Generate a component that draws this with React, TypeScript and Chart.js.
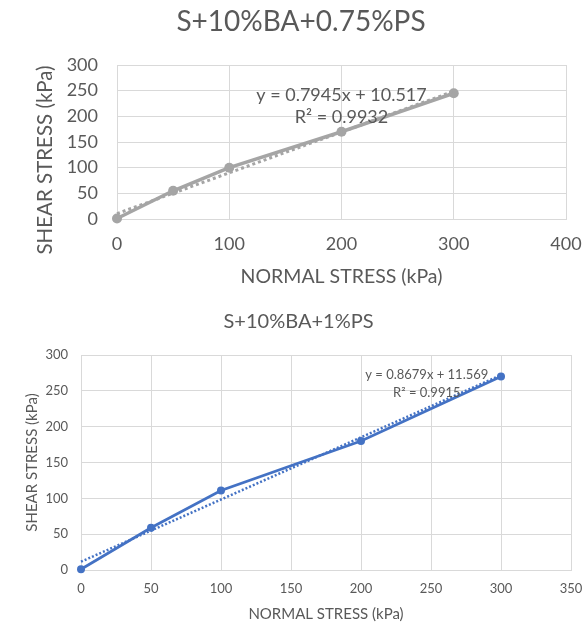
import React, { useEffect, useRef } from "react";
import { Chart, registerables } from "chart.js";

Chart.register(...registerables);

const FONT = "Lato, 'Open Sans', sans-serif";
const TEXT = "#595959";
const GRID = "#D9D9D9";

// ---- data ----
const normalStress = [0, 50, 100, 200, 300];
const shearTop = [1, 55, 100, 170, 245];
const shearBottom = [1, 59, 111, 180, 270];

const topTitle = "S+10%BA+0.75%PS";
const bottomTitle = "S+10%BA+1%PS";
const xTitle = "NORMAL STRESS (kPa)";
const yTitle = "SHEAR STRESS (kPa)";

const topSlope = 0.7945;
const topIntercept = 10.517;
const topLabels = ["y = 0.7945x + 10.517", "R\u00B2 = 0.9932"];
const bottomSlope = 0.8679;
const bottomIntercept = 11.569;
const bottomLabels = ["y = 0.8679x + 11.569", "R\u00B2 = 0.9915"];

const topXMax = 400;
const topXStep = 100;
const bottomXMax = 350;
const bottomXStep = 50;
const yMax = 300;
const yStep = 50;

const trendLabelPlugin = {
  id: "trendLabel",
  afterDatasetsDraw(chart: any, _args: any, opts: any) {
    if (!opts || !opts.lines) return;
    const { ctx, scales } = chart;
    const x = scales.x.getPixelForValue(opts.x);
    const y = scales.y.getPixelForValue(opts.y);
    ctx.save();
    ctx.font = `${opts.size}px ${FONT}`;
    ctx.fillStyle = TEXT;
    ctx.textAlign = "center";
    ctx.textBaseline = "middle";
    opts.lines.forEach((t: string, i: number) => {
      ctx.fillText(t, x, y + i * opts.gap);
    });
    ctx.restore();
  },
};

// vertical axis title, drawn beside the y scale
const yTitlePlugin = {
  id: "yTitleText",
  afterDraw(chart: any, _args: any, opts: any) {
    if (!opts || !opts.text) return;
    const { ctx, chartArea } = chart;
    const cy = (chartArea.top + chartArea.bottom) / 2 + (opts.dy || 0);
    ctx.save();
    ctx.translate(opts.x, cy);
    ctx.rotate(-Math.PI / 2);
    ctx.font = `${opts.size}px ${FONT}`;
    ctx.fillStyle = TEXT;
    ctx.textAlign = "center";
    ctx.textBaseline = "middle";
    ctx.fillText(opts.text, 0, 0);
    ctx.restore();
  },
};

type Cfg = {
  width: number;
  height: number;
  title: string;
  values: number[];
  slope: number;
  intercept: number;
  labels: string[];
  labelX: number;
  labelY: number;
  labelSize: number;
  labelGap: number;
  color: string;
  lineWidth: number;
  pointRadius: number;
  trendWidth: number;
  trendDash: number[];
  xMax: number;
  xStep: number;
  titleSize: number;
  titlePad: { top: number; bottom: number };
  tickSize: number;
  axisTitleSize: number;
  yTitleSize: number;
  yTitleX: number;
  yTitleDy: number;
  yAxisWidth: number;
  xAxisHeight: number;
  yTickPad: number;
  xTickPad: number;
  xTitlePad: number;
  padLeft: number;
  padRight: number;
};

function ScatterChart({ cfg, top }: { cfg: Cfg; top: number }) {
  const ref = useRef<HTMLCanvasElement | null>(null);
  useEffect(() => {
    if (!ref.current) return;
    const data = normalStress.map((x, i) => ({ x, y: cfg.values[i] }));
    const xs = [normalStress[0], normalStress[normalStress.length - 1]];
    const trend = xs.map((x) => ({ x, y: cfg.slope * x + cfg.intercept }));
    const chart = new Chart(ref.current, {
      type: "scatter",
      data: {
        datasets: [
          {
            data: trend,
            showLine: true,
            borderColor: cfg.color,
            borderWidth: cfg.trendWidth,
            borderDash: cfg.trendDash,
            pointRadius: 0,
            fill: false,
            clip: false,
          },
          {
            data,
            showLine: true,
            borderColor: cfg.color,
            backgroundColor: cfg.color,
            borderWidth: cfg.lineWidth,
            pointRadius: cfg.pointRadius,
            pointBorderWidth: 0,
            fill: false,
            clip: false,
          },
        ],
      },
      options: {
        responsive: false,
        animation: false,
        layout: { padding: { left: cfg.padLeft, right: cfg.padRight, top: 0, bottom: 0 } },
        plugins: {
          legend: { display: false },
          tooltip: { enabled: false },
          title: {
            display: true,
            text: cfg.title,
            color: TEXT,
            font: { family: FONT, size: cfg.titleSize, weight: "normal" },
            padding: cfg.titlePad,
          },
          trendLabel: {
            lines: cfg.labels,
            x: cfg.labelX,
            y: cfg.labelY,
            size: cfg.labelSize,
            gap: cfg.labelGap,
          },
          yTitleText: {
            text: yTitle,
            x: cfg.yTitleX,
            dy: cfg.yTitleDy,
            size: cfg.yTitleSize,
          },
        } as any,
        scales: {
          x: {
            type: "linear",
            min: 0,
            max: cfg.xMax,
            ticks: {
              stepSize: cfg.xStep,
              color: TEXT,
              padding: 0,
              font: { family: FONT, size: cfg.tickSize },
              maxRotation: 0,
            },
            grid: {
              color: GRID,
              drawTicks: true,
              tickLength: cfg.xTickPad,
              tickColor: "rgba(0,0,0,0)",
              lineWidth: 1,
            },
            border: { color: GRID, width: 1 },
            title: {
              display: true,
              text: xTitle,
              color: TEXT,
              font: { family: FONT, size: cfg.axisTitleSize },
              padding: { top: 0, bottom: cfg.xTitlePad },
            },
            afterFit: (s: any) => {
              s.height = cfg.xAxisHeight;
            },
          },
          y: {
            type: "linear",
            min: 0,
            max: yMax,
            ticks: {
              stepSize: yStep,
              color: TEXT,
              padding: cfg.yTickPad,
              font: { family: FONT, size: cfg.tickSize },
            },
            grid: { color: GRID, drawTicks: false, lineWidth: 1 },
            border: { color: GRID, width: 1 },
            title: { display: false },
            afterFit: (s: any) => {
              s.width = cfg.yAxisWidth;
            },
          },
        },
      } as any,
      plugins: [trendLabelPlugin, yTitlePlugin],
    });
    return () => chart.destroy();
  }, [cfg]);
  return (
    <canvas
      ref={ref}
      width={cfg.width}
      height={cfg.height}
      style={{ position: "absolute", left: 0, top, display: "block" }}
    />
  );
}

const topCfg: Cfg = {
  width: 583,
  height: 300,
  title: topTitle,
  values: shearTop,
  slope: topSlope,
  intercept: topIntercept,
  labels: topLabels,
  labelX: 200,
  labelY: 242,
  labelSize: 18,
  labelGap: 22,
  color: "#A5A5A5",
  lineWidth: 3.5,
  pointRadius: 5,
  trendWidth: 3,
  trendDash: [3, 3],
  xMax: topXMax,
  xStep: topXStep,
  titleSize: 28,
  titlePad: { top: 5.2, bottom: 26.2 },
  tickSize: 18,
  axisTitleSize: 19.5,
  yTitleSize: 20.5,
  yTitleX: 45,
  yTitleDy: 18,
  yAxisWidth: 81,
  xAxisHeight: 81,
  yTickPad: 19,
  xTickPad: 14.2,
  xTitlePad: 11.3,
  padLeft: 36,
  padRight: 17,
};

const bottomCfg: Cfg = {
  width: 583,
  height: 323,
  title: bottomTitle,
  values: shearBottom,
  slope: bottomSlope,
  intercept: bottomIntercept,
  labels: bottomLabels,
  labelX: 247,
  labelY: 272,
  labelSize: 13,
  labelGap: 18,
  color: "#4472C4",
  lineWidth: 2.75,
  pointRadius: 4,
  trendWidth: 2.5,
  trendDash: [2, 2],
  xMax: bottomXMax,
  xStep: bottomXStep,
  titleSize: 20,
  titlePad: { top: 10, bottom: 21 },
  tickSize: 13,
  axisTitleSize: 15,
  yTitleSize: 15,
  yTitleX: 32,
  yTitleDy: 0,
  yAxisWidth: 55,
  xAxisHeight: 53,
  yTickPad: 13,
  xTickPad: 11.2,
  xTitlePad: 0,
  padLeft: 26,
  padRight: 12,
};

export default function App() {
  return (
    <div style={{ position: "absolute", left: 0, top: 0, width: 583, height: 623, background: "#fff" }}>
      <ScatterChart cfg={topCfg} top={0} />
      <ScatterChart cfg={bottomCfg} top={300} />
    </div>
  );
}
